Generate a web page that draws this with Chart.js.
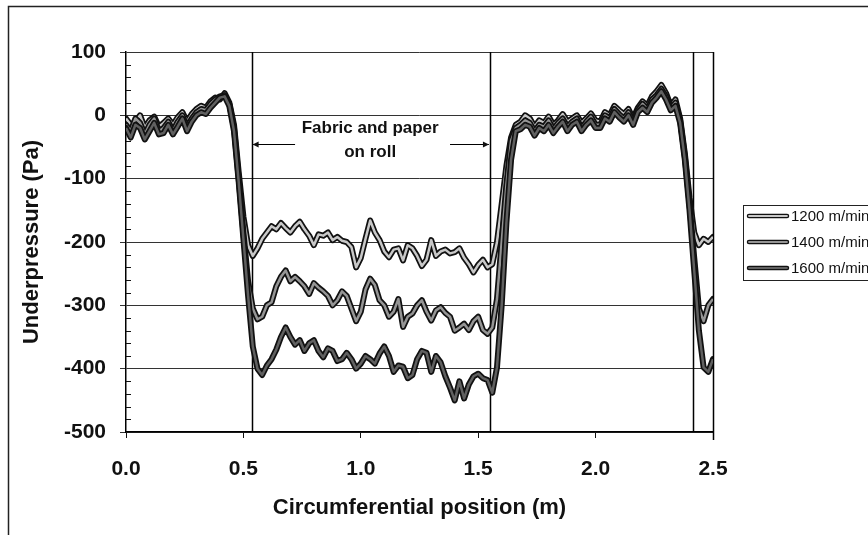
<!DOCTYPE html>
<html><head><meta charset="utf-8">
<script src="https://cdn.jsdelivr.net/npm/chart.js@4/dist/chart.umd.min.js"></script>
<style>html,body{margin:0;padding:0;background:#fff;overflow:hidden}canvas{display:block}</style>
</head><body>
<canvas id="c" width="868" height="535"></canvas>
<script>
// Circumferential positions (m)
const positions = [
  0.00,0.02,0.04,0.06,0.08,0.10,0.12,0.14,0.16,0.18,0.20,0.22,0.24,0.26,0.28,0.30,0.32,0.34,0.36,0.38,
  0.40,0.42,0.44,0.46,0.48,0.50,0.52,0.54,0.56,0.58,0.60,0.62,0.64,0.66,0.68,0.70,0.72,0.74,0.76,0.78,
  0.80,0.82,0.84,0.86,0.88,0.90,0.92,0.94,0.96,0.98,1.00,1.02,1.04,1.06,1.08,1.10,1.12,1.14,1.16,1.18,
  1.20,1.22,1.24,1.26,1.28,1.30,1.32,1.34,1.36,1.38,1.40,1.42,1.44,1.46,1.48,1.50,1.52,1.54,1.56,1.58,
  1.60,1.62,1.64,1.66,1.68,1.70,1.72,1.74,1.76,1.78,1.80,1.82,1.84,1.86,1.88,1.90,1.92,1.94,1.96,1.98,
  2.00,2.02,2.04,2.06,2.08,2.10,2.12,2.14,2.16,2.18,2.20,2.22,2.24,2.26,2.28,2.30,2.32,2.34,2.36,2.38,
  2.40,2.42,2.44,2.46,2.48,2.50
];
// Underpressure (Pa)
const s1200 = [
  -5,-15,-10,0,-20,-8,-2,-18,-12,-5,-15,-3,5,-10,2,10,15,12,22,28,25,35,20,
  -15,-90,-160,-205,-222,-210,-195,
  -185,-175,-180,-170,-178,-185,-175,-168,-180,-190,
  -205,-188,-190,-185,-197,-192,-198,-200,-208,-240,
  -225,-195,-166,-185,-197,-215,-224,-212,-210,-229,
  -205,-210,-222,-238,-228,-197,-222,-215,-212,-218,
  -216,-210,-225,-235,-248,-236,-228,-240,
  -235,-200,-140,-80,-35,
  -15,-10,0,-5,-18,-8,-12,-2,-15,-8,
  2,-10,-5,0,-12,-5,3,-8,-10,5,
  0,15,8,2,10,-5,12,22,15,30,
  38,48,35,15,25,-5,
  -60,-130,-185,-205,-195,-200,-192
];
const s1400 = [
  -15,-25,-5,-12,-30,-15,-5,-25,-20,-10,-25,-10,0,-18,-5,5,10,8,18,25,30,32,18,
  -20,-100,-185,-262,-305,-322,-318,
  -300,-295,-270,-255,-245,-262,-255,-262,-270,-282,
  -265,-272,-278,-285,-300,-292,-278,-285,-305,-325,
  -310,-275,-258,-268,-292,-300,-318,-310,-290,-334,
  -318,-313,-300,-292,-310,-324,-308,-303,-312,-318,
  -340,-335,-329,-339,-325,-318,-339,-345,
  -335,-290,-200,-110,-40,
  -20,-15,-8,-12,-25,-15,-18,-8,-22,-12,
  -5,-18,-10,-5,-20,-10,-2,-15,-15,0,
  -5,10,2,-5,5,-10,8,18,10,25,
  32,42,30,12,20,-8,
  -65,-140,-225,-305,-325,-300,-290
];
const s1600 = [
  -20,-35,-15,-20,-38,-25,-12,-30,-28,-15,-30,-18,-5,-25,-10,0,5,2,12,20,28,30,15,
  -25,-105,-195,-285,-365,-400,-410,
  -395,-385,-370,-350,-335,-350,-362,-355,-372,-360,
  -355,-372,-382,-368,-372,-388,-385,-375,-385,-400,
  -392,-380,-385,-392,-376,-365,-380,-405,-395,-397,
  -415,-410,-385,-372,-375,-405,-380,-390,-412,-430,
  -450,-420,-447,-425,-412,-408,-415,-418,
  -438,-398,-300,-170,-70,
  -25,-22,-15,-18,-32,-20,-25,-15,-28,-18,
  -10,-25,-15,-10,-25,-15,-8,-20,-20,-5,
  -10,5,-3,-10,0,-15,5,12,5,20,
  28,38,25,8,15,-12,
  -70,-150,-245,-340,-398,-405,-385
];
const seriesLabels = ['1200 m/min', '1400 m/min', '1600 m/min'];
const markerLines = [0.535, 1.55, 2.415];      // vertical reference lines (m)
const annotationText = ['Fabric and paper', 'on roll'];
const xTitle = 'Circumferential position (m)';
const yTitle = 'Underpressure (Pa)';

const innerColors = ['#c8c8c8', '#959595', '#606060'];
const seriesValues = [s1200, s1400, s1600];
const datasets = [];
seriesValues.forEach((vals, i) => {
  const pts = positions.map((x, j) => ({x: x, y: vals[j]}));
  datasets.push({label: seriesLabels[i], data: pts, borderColor: '#111', borderWidth: 6,
    pointRadius: 0, tension: 0, order: 10 - 2 * i, borderJoinStyle: 'round', borderCapStyle: 'round'});
  datasets.push({label: seriesLabels[i] + '_inner', data: pts, borderColor: innerColors[i], borderWidth: 2.5,
    pointRadius: 0, tension: 0, order: 9 - 2 * i, borderJoinStyle: 'round'});
});

const FONT = '"Liberation Sans", Arial, Helvetica, sans-serif';

const decor = {
  id: 'decor',
  beforeDatasetsDraw(chart) {
    const {ctx, chartArea: a, scales: {x, y}} = chart;
    ctx.save();
    // minor ticks on y axis (inward)
    ctx.strokeStyle = '#111'; ctx.lineWidth = 1;
    for (let v = -480; v < 100; v += 20) {
      if (v % 100 === 0) continue;
      const py = Math.round(y.getPixelForValue(v)) + 0.5;
      ctx.beginPath(); ctx.moveTo(a.left, py); ctx.lineTo(a.left + 5, py); ctx.stroke();
    }
    // vertical reference lines
    ctx.lineWidth = 1.5; ctx.strokeStyle = '#000';
    markerLines.forEach(m => {
      const px = Math.round(x.getPixelForValue(m)) + 0.5;
      ctx.beginPath(); ctx.moveTo(px, a.top); ctx.lineTo(px, a.bottom); ctx.stroke();
    });
    // right edge of plot
    const pr = Math.round(x.getPixelForValue(2.5)) + 0.5;
    ctx.beginPath(); ctx.moveTo(pr, a.top); ctx.lineTo(pr, a.bottom + 8); ctx.stroke();
    // annotation text
    ctx.fillStyle = '#111';
    ctx.font = 'bold 17px ' + FONT;
    ctx.textAlign = 'center'; ctx.textBaseline = 'middle';
    const tx = x.getPixelForValue(1.04);
    ctx.fillText(annotationText[0], tx, y.getPixelForValue(-20));
    ctx.fillText(annotationText[1], tx, y.getPixelForValue(-58));
    // arrows
    const ay = Math.round(y.getPixelForValue(-45)) + 0.5;
    const l0 = x.getPixelForValue(markerLines[0]) + 1, l1 = x.getPixelForValue(0.72);
    const r0 = x.getPixelForValue(1.38), r1 = x.getPixelForValue(markerLines[1]) - 1;
    ctx.lineWidth = 1.2;
    ctx.beginPath(); ctx.moveTo(l0, ay); ctx.lineTo(l1, ay); ctx.moveTo(r0, ay); ctx.lineTo(r1, ay); ctx.stroke();
    ctx.beginPath(); ctx.moveTo(l0, ay); ctx.lineTo(l0 + 6, ay - 3); ctx.lineTo(l0 + 6, ay + 3); ctx.closePath(); ctx.fill();
    ctx.beginPath(); ctx.moveTo(r1, ay); ctx.lineTo(r1 - 6, ay - 3); ctx.lineTo(r1 - 6, ay + 3); ctx.closePath(); ctx.fill();
    ctx.restore();
  },
  afterDraw(chart) {
    const {ctx} = chart;
    ctx.save();
    // outer frame (clipped at right and bottom)
    ctx.strokeStyle = '#222'; ctx.lineWidth = 1.5;
    ctx.strokeRect(8.5, 6.5, 900, 600);
    // legend
    ctx.lineWidth = 1; ctx.strokeStyle = '#222';
    ctx.strokeRect(743.5, 205.5, 200, 75);
    const rows = [216, 242, 268];
    ctx.font = '15px ' + FONT;
    ctx.textAlign = 'left'; ctx.textBaseline = 'middle';
    rows.forEach((ry, i) => {
      ctx.lineCap = 'round';
      ctx.strokeStyle = '#111'; ctx.lineWidth = 4.5;
      ctx.beginPath(); ctx.moveTo(749, ry); ctx.lineTo(787, ry); ctx.stroke();
      ctx.strokeStyle = innerColors[i]; ctx.lineWidth = 1.8;
      ctx.beginPath(); ctx.moveTo(749, ry); ctx.lineTo(787, ry); ctx.stroke();
      ctx.fillStyle = '#111';
      ctx.fillText(seriesLabels[i], 791, ry + 1);
    });
    ctx.restore();
  }
};

new Chart(document.getElementById('c'), {
  type: 'line',
  data: {datasets},
  plugins: [decor],
  options: {
    responsive: false,
    animation: false,
    devicePixelRatio: 1,
    layout: {padding: {top: 52, right: 155, left: 0, bottom: 0}},
    plugins: {legend: {display: false}, tooltip: {enabled: false}},
    scales: {
      x: {
        type: 'linear', min: 0, max: 2.5,
        ticks: {stepSize: 0.5, color: '#111', font: {family: FONT, size: 21, weight: 'bold'}, padding: 19,
          callback: v => Number(v).toFixed(1), maxRotation: 0},
        grid: {drawOnChartArea: false, tickLength: 6, color: '#111', lineWidth: 1},
        border: {color: '#000', width: 1.5},
        title: {display: true, text: xTitle, color: '#111', font: {family: FONT, size: 22, weight: 'bold'},
          padding: {top: 0, bottom: 14}},
        afterFit: s => { s.height = 103; s.paddingLeft = 0; s.paddingRight = 0; }
      },
      y: {
        type: 'linear', min: -500, max: 100,
        ticks: {stepSize: 100, color: '#111', font: {family: FONT, size: 21, weight: 'bold'}, padding: 14},
        grid: {color: '#333', lineWidth: 1, tickLength: 6},
        border: {color: '#000', width: 1.5},
        title: {display: true, text: yTitle, color: '#111', font: {family: FONT, size: 22, weight: 'bold'},
          padding: {top: 19, bottom: 0}},
        afterFit: s => { s.width = 126; s.paddingTop = 0; s.paddingBottom = 0; }
      }
    }
  }
});
</script>
</body></html>
